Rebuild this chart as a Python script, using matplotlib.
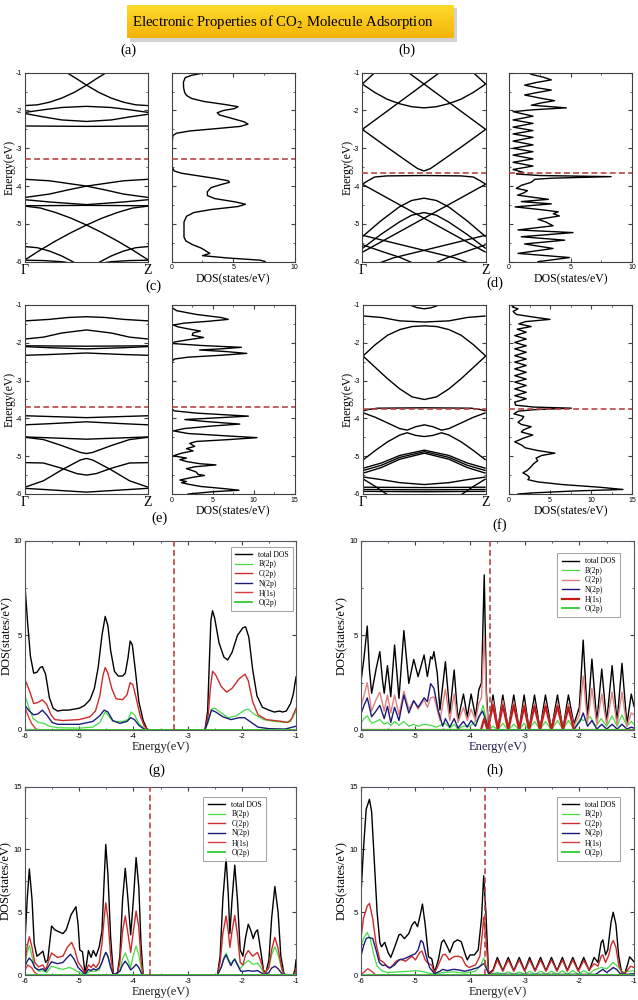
import numpy as np
import matplotlib
matplotlib.use('Agg')
import matplotlib.pyplot as plt
from matplotlib.patches import Rectangle
from matplotlib.colors import LinearSegmentedColormap
from matplotlib.ticker import MultipleLocator

plt.rcParams['font.family'] = ['Liberation Serif', 'DejaVu Serif']
plt.rcParams['mathtext.fontset'] = 'stix'
plt.rcParams['axes.unicode_minus'] = False

# ---------------------------------------------------------------- data
# band structures: each band is a list of (k, E), k from Gamma (0) to Z (1)
bands_a = [
    [(0.34, -1.0), (0.42, -1.16), (0.5, -1.33), (0.6, -1.52), (0.7, -1.67), (0.8, -1.78), (0.9, -1.85), (1.0, -1.87)],
    [(0.0, -1.87), (0.1, -1.85), (0.2, -1.78), (0.3, -1.67), (0.4, -1.52), (0.5, -1.33), (0.58, -1.16), (0.66, -1.0)],
    [(0.0, -2.05), (0.15, -1.98), (0.3, -1.92), (0.5, -1.89), (0.7, -1.92), (0.85, -1.98), (1.0, -2.05)],
    [(0.0, -2.08), (0.15, -2.17), (0.3, -2.25), (0.5, -2.29), (0.7, -2.25), (0.85, -2.17), (1.0, -2.1)],
    [(0.0, -2.41), (0.5, -2.42), (1.0, -2.41)],
    [(0.0, -3.82), (0.2, -3.86), (0.35, -3.93), (0.5, -4.0), (0.65, -4.1), (0.8, -4.21), (1.0, -4.3)],
    [(0.0, -4.3), (0.2, -4.21), (0.35, -4.1), (0.5, -4.0), (0.65, -3.93), (0.8, -3.86), (1.0, -3.82)],
    [(0.0, -4.36), (0.2, -4.42), (0.5, -4.49), (0.8, -4.42), (1.0, -4.36)],
    [(0.0, -4.52), (0.5, -4.51), (1.0, -4.52)],
    [(0.0, -4.53), (0.125, -4.58), (0.25, -4.7), (0.375, -4.85), (0.5, -5.03), (0.625, -5.23), (0.75, -5.45), (0.875, -5.69), (1.0, -5.95)],
    [(0.0, -5.95), (0.125, -5.69), (0.25, -5.45), (0.375, -5.23), (0.5, -5.03), (0.625, -4.85), (0.75, -4.7), (0.875, -4.58), (1.0, -4.53)],
    [(0.0, -5.6), (0.1, -5.63), (0.2, -5.72), (0.3, -5.85), (0.4, -6.02)],
    [(1.0, -5.6), (0.9, -5.63), (0.8, -5.72), (0.7, -5.85), (0.6, -6.02)],
    [(0.0, -5.96), (0.15, -5.97), (0.3, -6.0), (0.4, -6.05)],
    [(1.0, -5.96), (0.85, -5.97), (0.7, -6.0), (0.6, -6.05)],
]

bands_b = [
    [(0.0, -1.3), (0.05, -1.15), (0.1, -1.0)],
    [(1.0, -1.3), (0.95, -1.15), (0.9, -1.0)],
    [(0.0, -1.3), (0.1, -1.52), (0.2, -1.7), (0.3, -1.82), (0.4, -1.9), (0.5, -1.93), (0.6, -1.9), (0.7, -1.82), (0.8, -1.7), (0.9, -1.52), (1.0, -1.3)],
    [(0.0, -2.5), (0.5, -1.3), (0.65, -0.94)],
    [(1.0, -2.5), (0.5, -1.3), (0.35, -0.94)],
    [(0.0, -2.5), (0.2, -2.97), (0.4, -3.43), (0.45, -3.54), (0.5, -3.6), (0.55, -3.54), (0.6, -3.43), (0.8, -2.97), (1.0, -2.5)],
    [(0.0, -3.95), (0.05, -3.85), (0.1, -3.76), (0.2, -3.73), (0.5, -3.72), (0.8, -3.73), (0.9, -3.76), (0.95, -3.85), (1.0, -3.95)],
    [(0.0, -3.95), (0.25, -4.4), (0.5, -4.85), (0.75, -5.3), (1.0, -5.75)],
    [(0.0, -5.75), (0.25, -5.3), (0.5, -4.85), (0.75, -4.4), (1.0, -3.95)],
    [(0.0, -5.34), (0.15, -4.92), (0.3, -4.55), (0.4, -4.38), (0.5, -4.32), (0.6, -4.38), (0.7, -4.55), (0.85, -4.92), (1.0, -5.34)],
    [(0.0, -5.65), (0.15, -5.28), (0.3, -4.95), (0.4, -4.77), (0.5, -4.7), (0.6, -4.77), (0.7, -4.95), (0.85, -5.28), (1.0, -5.65)],
    [(0.0, -5.3), (0.25, -5.5), (0.5, -5.7), (0.75, -5.9), (0.85, -6.02)],
    [(1.0, -5.3), (0.75, -5.5), (0.5, -5.7), (0.25, -5.9), (0.15, -6.02)],
    [(0.0, -5.55), (0.15, -5.72), (0.3, -5.88), (0.4, -6.02)],
    [(1.0, -5.55), (0.85, -5.72), (0.7, -5.88), (0.6, -6.02)],
]

bands_c = [
    [(0.0, -1.42), (0.2, -1.38), (0.35, -1.33), (0.5, -1.31), (0.65, -1.33), (0.8, -1.38), (1.0, -1.42)],
    [(0.0, -1.9), (0.15, -1.85), (0.3, -1.74), (0.5, -1.66), (0.7, -1.74), (0.85, -1.85), (1.0, -1.9)],
    [(0.0, -2.08), (0.5, -2.09), (1.0, -2.08)],
    [(0.0, -2.1), (0.2, -2.13), (0.5, -2.16), (0.8, -2.13), (1.0, -2.1)],
    [(0.0, -2.33), (0.2, -2.31), (0.5, -2.27), (0.8, -2.31), (1.0, -2.33)],
    [(0.0, -3.93), (0.2, -3.95), (0.5, -3.98), (0.8, -3.95), (1.0, -3.93)],
    [(0.0, -4.17), (0.2, -4.14), (0.5, -4.09), (0.8, -4.14), (1.0, -4.17)],
    [(0.0, -4.49), (0.5, -4.55), (1.0, -4.49)],
    [(0.0, -4.5), (0.15, -4.56), (0.3, -4.72), (0.45, -4.9), (0.5, -4.93), (0.55, -4.9), (0.7, -4.72), (0.85, -4.56), (1.0, -4.5)],
    [(0.0, -5.17), (0.15, -5.18), (0.3, -5.32), (0.42, -5.46), (0.5, -5.5), (0.58, -5.46), (0.7, -5.32), (0.85, -5.18), (1.0, -5.17)],
    [(0.0, -5.82), (0.15, -5.65), (0.3, -5.36), (0.45, -5.1), (0.5, -5.06), (0.55, -5.1), (0.7, -5.36), (0.85, -5.65), (1.0, -5.82)],
    [(0.0, -5.85), (0.25, -5.9), (0.5, -5.95), (0.75, -5.9), (1.0, -5.85)],
]

bands_d = [
    [(0.38, -1.0), (0.44, -1.07), (0.5, -1.1), (0.56, -1.07), (0.62, -1.0)],
    [(0.0, -1.29), (0.15, -1.33), (0.3, -1.42), (0.5, -1.45), (0.7, -1.42), (0.85, -1.33), (1.0, -1.29)],
    [(0.0, -2.35), (0.1, -2.05), (0.2, -1.8), (0.3, -1.65), (0.4, -1.57), (0.5, -1.55), (0.6, -1.57), (0.7, -1.65), (0.8, -1.8), (0.9, -2.05), (1.0, -2.35)],
    [(0.0, -2.35), (0.1, -2.65), (0.2, -2.95), (0.3, -3.22), (0.4, -3.43), (0.5, -3.5), (0.6, -3.43), (0.7, -3.22), (0.8, -2.95), (0.9, -2.65), (1.0, -2.35)],
    [(0.0, -3.8), (0.05, -3.76), (0.12, -3.73), (0.5, -3.72), (0.88, -3.73), (0.95, -3.76), (1.0, -3.8)],
    [(0.0, -3.85), (0.1, -3.97), (0.2, -4.12), (0.3, -4.27), (0.36, -4.31), (0.43, -4.22), (0.5, -4.17), (0.57, -4.22), (0.64, -4.31), (0.7, -4.27), (0.8, -4.12), (0.9, -3.97), (1.0, -3.85)],
    [(0.0, -5.1), (0.1, -4.85), (0.2, -4.62), (0.3, -4.44), (0.36, -4.38), (0.43, -4.45), (0.5, -4.48), (0.57, -4.45), (0.64, -4.38), (0.7, -4.44), (0.8, -4.62), (0.9, -4.85), (1.0, -5.1)],
    [(0.0, -5.32), (0.15, -5.18), (0.3, -4.98), (0.5, -4.84), (0.7, -4.98), (0.85, -5.18), (1.0, -5.32)],
    [(0.0, -5.38), (0.15, -5.24), (0.3, -5.03), (0.5, -4.88), (0.7, -5.03), (0.85, -5.24), (1.0, -5.38)],
    [(0.0, -5.45), (0.15, -5.3), (0.3, -5.08), (0.5, -4.92), (0.7, -5.08), (0.85, -5.3), (1.0, -5.45)],
    [(0.0, -5.55), (0.15, -5.62), (0.3, -5.7), (0.5, -5.75), (0.7, -5.7), (0.85, -5.62), (1.0, -5.55)],
    [(0.0, -5.82), (0.5, -5.83), (1.0, -5.82)],
    [(0.0, -5.88), (0.5, -5.89), (1.0, -5.88)],
    [(0.0, -5.93), (0.5, -5.94), (1.0, -5.93)],
    [(0.0, -5.6), (0.1, -5.8), (0.2, -6.02)],
    [(1.0, -5.6), (0.9, -5.8), (0.8, -6.02)],
]

# total DOS next to the bands: (E, DOS)
dos_a = [(-1.0, 2.7), (-1.07, 1.6), (-1.13, 1.1), (-1.25, 0.95), (-1.4, 0.97), (-1.52, 1.05), (-1.6, 1.2), (-1.68, 1.6),
         (-1.76, 2.6), (-1.84, 4.3), (-1.9, 5.4), (-1.95, 5.1), (-2.0, 4.2), (-2.06, 3.7), (-2.12, 3.9), (-2.2, 4.8),
         (-2.3, 5.9), (-2.36, 6.2), (-2.42, 5.6), (-2.48, 3.6), (-2.54, 1.5), (-2.6, 0.4), (-2.66, 0.1), (-2.8, 0.05),
         (-3.5, 0.05), (-3.6, 0.2), (-3.66, 0.8), (-3.72, 2.0), (-3.8, 3.6), (-3.86, 4.6), (-3.9, 4.7), (-3.96, 4.0),
         (-4.04, 3.2), (-4.15, 2.9), (-4.25, 2.9), (-4.33, 3.5), (-4.42, 5.2), (-4.48, 6.0), (-4.54, 5.4), (-4.62, 3.2),
         (-4.7, 1.8), (-4.8, 1.2), (-4.95, 1.0), (-5.2, 1.0), (-5.35, 1.0), (-5.45, 1.15), (-5.55, 1.7), (-5.64, 2.4),
         (-5.72, 2.8), (-5.78, 3.1), (-5.84, 2.5), (-5.9, 4.5), (-5.96, 7.2), (-6.0, 7.6)]

dos_b = [(-1.0, 1.5), (-1.05, 1.9), (-1.12, 2.8), (-1.19, 3.44), (-1.26, 2.2), (-1.33, 1.27), (-1.4, 2.3), (-1.46, 3.44),
         (-1.53, 2.2), (-1.59, 1.27), (-1.67, 2.5), (-1.74, 3.71), (-1.8, 2.6), (-1.86, 1.82), (-1.93, 4.66), (-1.98, 2.0),
         (-2.03, 0.33), (-2.15, 1.95), (-2.25, 0.33), (-2.34, 1.95), (-2.44, 0.33), (-2.53, 1.95), (-2.62, 0.33),
         (-2.71, 1.95), (-2.81, 0.33), (-2.91, 1.95), (-3.0, 0.33), (-3.09, 1.95), (-3.18, 0.33), (-3.28, 1.95),
         (-3.37, 0.33), (-3.47, 1.95), (-3.56, 0.33), (-3.64, 1.2), (-3.68, 0.6), (-3.72, 2.5), (-3.75, 8.3),
         (-3.79, 3.5), (-3.82, 2.1), (-3.9, 1.8), (-3.98, 1.0), (-4.06, 0.6), (-4.12, 1.5), (-4.18, 1.2), (-4.24, 0.7),
         (-4.35, 3.2), (-4.41, 1.0), (-4.47, 3.44), (-4.55, 0.5), (-4.62, 2.5), (-4.68, 4.0), (-4.73, 3.6), (-4.79, 4.1),
         (-4.88, 2.36), (-4.95, 3.0), (-5.05, 3.58), (-5.16, 0.73), (-5.23, 5.2), (-5.34, 1.0), (-5.43, 4.53),
         (-5.53, 1.27), (-5.65, 3.58), (-5.78, 0.73), (-5.89, 4.93), (-6.0, 2.36)]

dos_c = [(-1.0, 0.05), (-1.08, 0.1), (-1.15, 0.6), (-1.25, 3.0), (-1.33, 6.0), (-1.38, 6.9), (-1.43, 4.5), (-1.48, 1.5),
         (-1.53, 0.2), (-1.58, 0.8), (-1.64, 2.2), (-1.69, 3.5), (-1.74, 2.6), (-1.8, 2.5), (-1.86, 3.9), (-1.92, 2.0),
         (-1.98, 0.3), (-2.02, 0.2), (-2.07, 3.5), (-2.12, 8.5), (-2.16, 6.0), (-2.19, 3.4), (-2.23, 6.5), (-2.28, 9.15),
         (-2.33, 6.0), (-2.38, 2.0), (-2.43, 0.3), (-2.5, 0.05), (-3.75, 0.05), (-3.8, 0.3), (-3.86, 3.0), (-3.94, 9.35),
         (-3.98, 6.0), (-4.03, 1.6), (-4.08, 4.0), (-4.15, 8.3), (-4.2, 5.0), (-4.27, 1.5), (-4.33, 0.2), (-4.4, 2.0),
         (-4.46, 6.5), (-4.51, 10.4), (-4.56, 7.0), (-4.61, 3.0), (-4.66, 2.2), (-4.74, 2.8), (-4.8, 1.8), (-4.86, 2.6),
         (-4.92, 1.2), (-4.99, 0.2), (-5.05, 1.8), (-5.09, 1.0), (-5.14, 1.8), (-5.17, 2.6), (-5.2, 3.5), (-5.23, 5.4),
         (-5.28, 2.8), (-5.33, 1.8), (-5.38, 2.5), (-5.42, 3.0), (-5.48, 3.2), (-5.51, 4.0), (-5.56, 2.5), (-5.63, 1.0),
         (-5.67, 1.8), (-5.7, 1.2), (-5.74, 2.0), (-5.8, 3.5), (-5.86, 6.5), (-5.9, 8.2), (-5.94, 5.0), (-6.0, 2.0)]

dos_d = [(-1.0, 0.7), (-1.05, 0.4), (-1.1, 1.1), (-1.17, 0.5), (-1.25, 0.9), (-1.32, 3.0), (-1.38, 5.0), (-1.44, 2.0),
         (-1.5, 1.2), (-1.57, 2.7), (-1.64, 1.0), (-1.72, 2.1), (-1.81, 0.7), (-1.9, 2.1), (-1.99, 0.7), (-2.08, 2.1),
         (-2.16, 0.7), (-2.25, 2.1), (-2.34, 0.7), (-2.43, 2.1), (-2.51, 0.7), (-2.6, 2.1), (-2.69, 0.7), (-2.78, 2.1),
         (-2.87, 0.7), (-2.96, 2.1), (-3.04, 0.7), (-3.13, 2.1), (-3.22, 0.7), (-3.31, 2.1), (-3.4, 0.7), (-3.48, 2.1),
         (-3.57, 0.7), (-3.65, 0.8), (-3.7, 3.0), (-3.73, 7.6), (-3.77, 3.0), (-3.81, 1.1), (-3.88, 0.6), (-3.95, 1.8),
         (-4.02, 1.6), (-4.1, 1.1), (-4.16, 1.5), (-4.22, 2.7), (-4.3, 1.8), (-4.36, 1.5), (-4.44, 2.9), (-4.52, 1.8),
         (-4.62, 0.7), (-4.7, 1.5), (-4.78, 2.0), (-4.85, 3.5), (-4.92, 5.6), (-4.98, 4.0), (-5.05, 3.3), (-5.12, 3.5),
         (-5.2, 3.0), (-5.3, 2.6), (-5.38, 2.2), (-5.44, 1.7), (-5.5, 2.2), (-5.56, 2.5), (-5.62, 2.3), (-5.68, 3.5),
         (-5.75, 6.5), (-5.82, 11.0), (-5.88, 13.9), (-5.92, 8.0), (-5.97, 3.0), (-6.0, 1.1)]

# projected DOS panels (E, DOS)
e_total = [(-6.0, 7.6), (-5.95, 5.6), (-5.9, 3.9), (-5.84, 3.0), (-5.78, 3.05), (-5.72, 3.3), (-5.68, 3.35), (-5.62, 2.95),
           (-5.55, 1.7), (-5.48, 1.15), (-5.4, 1.0), (-5.3, 1.05), (-5.2, 1.05), (-5.1, 1.1), (-5.0, 1.15), (-4.9, 1.3),
           (-4.8, 1.6), (-4.72, 2.2), (-4.65, 3.3), (-4.58, 5.0), (-4.52, 6.0), (-4.47, 5.5), (-4.42, 4.2), (-4.35, 3.1),
           (-4.28, 2.85), (-4.2, 2.85), (-4.15, 3.0), (-4.1, 3.8), (-4.06, 4.7), (-4.02, 4.5), (-3.97, 3.3), (-3.9, 1.5),
           (-3.82, 0.5), (-3.75, 0.05), (-3.7, 0.0), (-2.68, 0.0), (-2.63, 1.0), (-2.6, 3.5), (-2.57, 5.8), (-2.54, 6.3),
           (-2.5, 5.9), (-2.42, 4.6), (-2.33, 3.85), (-2.26, 3.7), (-2.18, 4.1), (-2.08, 5.0), (-1.98, 5.4), (-1.93, 5.45),
           (-1.87, 4.9), (-1.8, 3.2), (-1.72, 1.8), (-1.62, 1.2), (-1.5, 1.05), (-1.4, 0.95), (-1.3, 1.0), (-1.25, 0.95),
           (-1.18, 1.0), (-1.1, 1.4), (-1.05, 1.9), (-1.0, 2.8)]
e_b2p = [(-6.0, 1.8), (-5.93, 1.2), (-5.85, 0.6), (-5.75, 0.4), (-5.65, 0.35), (-5.55, 0.2), (-5.4, 0.12), (-5.0, 0.1),
         (-4.75, 0.15), (-4.62, 0.4), (-4.52, 0.95), (-4.46, 0.75), (-4.38, 0.45), (-4.2, 0.45), (-4.1, 0.55), (-4.04, 0.95),
         (-3.98, 0.8), (-3.9, 0.35), (-3.8, 0.05), (-3.72, 0.0), (-2.68, 0.0), (-2.62, 0.4), (-2.56, 1.1), (-2.5, 1.15),
         (-2.4, 0.95), (-2.25, 0.65), (-2.1, 0.75), (-1.95, 1.05), (-1.88, 1.1), (-1.78, 0.85), (-1.6, 0.55), (-1.4, 0.45),
         (-1.2, 0.4), (-1.1, 0.45), (-1.0, 1.0)]
e_c2p = [(-6.0, 2.65), (-5.92, 2.1), (-5.84, 1.4), (-5.76, 1.45), (-5.68, 1.6), (-5.6, 1.35), (-5.52, 0.8), (-5.45, 0.55),
         (-5.3, 0.5), (-5.0, 0.55), (-4.8, 0.7), (-4.7, 1.0), (-4.62, 1.8), (-4.56, 2.9), (-4.52, 3.3), (-4.47, 3.0),
         (-4.4, 2.2), (-4.32, 1.65), (-4.2, 1.6), (-4.12, 1.85), (-4.06, 2.5), (-4.01, 2.4), (-3.95, 1.7), (-3.88, 0.8),
         (-3.8, 0.2), (-3.72, 0.0), (-2.68, 0.0), (-2.62, 0.8), (-2.58, 2.2), (-2.54, 3.1), (-2.48, 2.9), (-2.38, 2.3),
         (-2.28, 2.0), (-2.18, 2.2), (-2.05, 2.7), (-1.94, 2.95), (-1.88, 2.6), (-1.8, 1.5), (-1.7, 0.8), (-1.55, 0.55),
         (-1.4, 0.5), (-1.25, 0.45), (-1.15, 0.4), (-1.08, 0.6), (-1.0, 1.15)]
e_n2p = [(-6.0, 1.3), (-5.92, 1.0), (-5.84, 0.8), (-5.76, 0.85), (-5.68, 1.05), (-5.6, 0.8), (-5.5, 0.4), (-5.4, 0.3),
         (-5.0, 0.3), (-4.75, 0.45), (-4.62, 0.75), (-4.54, 1.05), (-4.47, 0.95), (-4.38, 0.5), (-4.25, 0.35), (-4.12, 0.45),
         (-4.05, 0.65), (-3.98, 0.55), (-3.9, 0.25), (-3.8, 0.05), (-3.72, 0.0), (-2.68, 0.0), (-2.62, 0.5), (-2.56, 1.05),
         (-2.48, 0.95), (-2.35, 0.7), (-2.2, 0.55), (-2.05, 0.65), (-1.95, 0.65), (-1.85, 0.45), (-1.7, 0.15), (-1.5, 0.07),
         (-1.2, 0.05), (-1.0, 0.2)]
e_h1s = [(-6.0, 1.2), (-5.95, 0.8), (-5.88, 0.35), (-5.8, 0.05), (-5.7, 0.0), (-1.0, 0.0)]
e_o2p = [(-6.0, 0.02), (-1.0, 0.02)]

f_total = [(-6.0, 2.45), (-5.94, 3.8), (-5.88, 5.49), (-5.84, 3.2), (-5.8, 1.94), (-5.72, 3.2), (-5.65, 4.14), (-5.6, 2.6),
           (-5.57, 1.94), (-5.51, 3.4), (-5.45, 1.76), (-5.38, 4.49), (-5.3, 1.67), (-5.21, 5.25), (-5.12, 2.46),
           (-5.03, 3.73), (-4.95, 2.82), (-4.84, 3.96), (-4.78, 2.82), (-4.72, 3.87), (-4.69, 3.75), (-4.66, 4.14),
           (-4.6, 3.0), (-4.55, 1.06), (-4.45, 3.61), (-4.37, 0.88), (-4.29, 3.17), (-4.22, 0.53), (-4.12, 1.9),
           (-4.05, 0.7), (-3.98, 1.9), (-3.9, 0.7), (-3.84, 2.11), (-3.79, 2.5), (-3.74, 8.19), (-3.7, 2.0), (-3.66, 0.05),
           (-3.58, 1.85), (-3.49, 0.05), (-3.4, 1.85), (-3.3, 0.05), (-3.2, 1.85), (-3.1, 0.05), (-3.01, 1.85),
           (-2.92, 0.05), (-2.82, 1.85), (-2.72, 0.05), (-2.62, 1.85), (-2.51, 0.05), (-2.4, 1.85), (-2.3, 0.05),
           (-2.2, 1.85), (-2.1, 0.3), (-2.0, 1.2), (-1.93, 4.75), (-1.85, 0.6), (-1.77, 3.75), (-1.68, 0.4), (-1.59, 3.22),
           (-1.5, 0.4), (-1.4, 3.4), (-1.31, 0.4), (-1.22, 3.52), (-1.13, 0.3), (-1.05, 1.9), (-1.0, 1.25)]
f_b2p = [(-6.0, 0.35), (-5.94, 0.6), (-5.88, 0.75), (-5.8, 0.35), (-5.72, 0.45), (-5.65, 0.55), (-5.57, 0.3), (-5.51, 0.4),
         (-5.45, 0.25), (-5.38, 0.45), (-5.3, 0.25), (-5.21, 0.45), (-5.12, 0.2), (-5.03, 0.3), (-4.95, 0.2), (-4.84, 0.3),
         (-4.72, 0.25), (-4.62, 0.15), (-4.45, 0.35), (-4.37, 0.1), (-4.29, 0.3), (-4.22, 0.05), (-4.12, 0.2), (-4.0, 0.2),
         (-3.84, 0.6), (-3.76, 1.3), (-3.7, 0.5), (-3.66, 0.02), (-3.58, 0.2), (-3.49, 0.02), (-3.4, 0.35), (-3.3, 0.02),
         (-3.2, 0.3), (-3.1, 0.02), (-3.01, 0.35), (-2.92, 0.02), (-2.82, 0.45), (-2.72, 0.02), (-2.62, 0.45),
         (-2.51, 0.02), (-2.4, 0.5), (-2.3, 0.02), (-2.2, 0.5), (-2.1, 0.05), (-1.98, 0.6), (-1.93, 0.5), (-1.8, 0.7),
         (-1.7, 0.2), (-1.6, 0.6), (-1.5, 0.2), (-1.4, 0.75), (-1.31, 0.2), (-1.22, 0.8), (-1.13, 0.2), (-1.05, 0.45),
         (-1.0, 0.3)]
f_c2p = [(-6.0, 1.2), (-5.94, 1.8), (-5.88, 2.5), (-5.8, 1.0), (-5.72, 1.6), (-5.65, 2.0), (-5.57, 1.0), (-5.51, 1.85),
         (-5.45, 0.9), (-5.38, 1.85), (-5.3, 0.8), (-5.21, 2.05), (-5.12, 1.1), (-5.03, 1.55), (-4.95, 1.1), (-4.84, 1.6),
         (-4.78, 1.2), (-4.72, 1.7), (-4.66, 1.75), (-4.55, 0.5), (-4.45, 2.15), (-4.37, 0.5), (-4.29, 1.9), (-4.22, 0.4),
         (-4.12, 1.2), (-4.05, 0.5), (-3.98, 1.1), (-3.9, 0.5), (-3.84, 1.4), (-3.79, 1.7), (-3.74, 5.0), (-3.7, 1.5),
         (-3.66, 0.05), (-3.58, 1.55), (-3.49, 0.05), (-3.4, 1.55), (-3.3, 0.05), (-3.2, 1.5), (-3.1, 0.05),
         (-3.01, 1.45), (-2.92, 0.05), (-2.82, 1.4), (-2.72, 0.05), (-2.62, 1.4), (-2.51, 0.05), (-2.4, 1.45),
         (-2.3, 0.05), (-2.2, 1.4), (-2.1, 0.2), (-2.0, 0.8), (-1.93, 2.85), (-1.85, 0.4), (-1.77, 2.2), (-1.68, 0.3),
         (-1.59, 1.9), (-1.5, 0.3), (-1.4, 2.0), (-1.31, 0.3), (-1.22, 2.0), (-1.13, 0.2), (-1.05, 0.9), (-1.0, 0.8)]
f_n2p = [(-6.0, 0.8), (-5.94, 1.3), (-5.88, 1.7), (-5.8, 0.7), (-5.72, 1.0), (-5.65, 1.3), (-5.57, 0.6), (-5.51, 1.25),
         (-5.45, 0.4), (-5.38, 1.2), (-5.3, 0.5), (-5.21, 1.85), (-5.12, 0.9), (-5.03, 1.55), (-4.95, 1.2), (-4.84, 1.7),
         (-4.78, 1.5), (-4.72, 2.45), (-4.66, 2.2), (-4.58, 1.0), (-4.5, 0.2), (-4.45, 0.6), (-4.37, 0.15), (-4.29, 0.6),
         (-4.22, 0.1), (-4.12, 0.45), (-4.05, 0.15), (-3.98, 0.5), (-3.9, 0.2), (-3.84, 0.7), (-3.77, 1.0), (-3.72, 0.6),
         (-3.66, 0.02), (-2.1, 0.02), (-1.98, 0.5), (-1.93, 0.9), (-1.85, 0.2), (-1.77, 0.5), (-1.68, 0.05), (-1.59, 0.3),
         (-1.5, 0.05), (-1.4, 0.3), (-1.31, 0.05), (-1.22, 0.3), (-1.13, 0.05), (-1.05, 0.15), (-1.0, 0.1)]
f_h1s = [(-6.0, 0.0), (-3.8, 0.0), (-3.74, 0.6), (-3.68, 0.0), (-3.58, 1.3), (-3.49, 0.0), (-3.4, 1.3), (-3.3, 0.0),
         (-3.2, 1.3), (-3.1, 0.0), (-3.01, 1.25), (-2.92, 0.0), (-2.82, 1.25), (-2.72, 0.0), (-2.62, 1.25), (-2.51, 0.0),
         (-2.4, 1.25), (-2.3, 0.0), (-2.2, 1.2), (-2.1, 0.0), (-1.0, 0.0)]
f_o2p = [(-6.0, 0.02), (-1.0, 0.02)]

g_total = [(-6.0, 2.7), (-5.96, 6.0), (-5.92, 8.45), (-5.87, 6.0), (-5.83, 2.5), (-5.78, 1.5), (-5.72, 1.7), (-5.67, 1.9),
           (-5.62, 1.0), (-5.58, 1.2), (-5.51, 3.9), (-5.45, 3.6), (-5.38, 3.45), (-5.3, 3.3), (-5.24, 3.6), (-5.15, 4.8),
           (-5.06, 5.44), (-5.02, 4.0), (-4.99, 2.0), (-4.94, 1.85), (-4.89, 0.1), (-4.83, 1.95), (-4.78, 1.4),
           (-4.74, 1.95), (-4.69, 1.5), (-4.63, 2.25), (-4.58, 3.5), (-4.54, 7.5), (-4.51, 10.4), (-4.47, 8.0),
           (-4.42, 3.0), (-4.37, 0.1), (-4.3, 0.0), (-4.25, 1.5), (-4.2, 6.0), (-4.15, 8.5), (-4.1, 6.0), (-4.05, 3.2),
           (-4.0, 6.0), (-3.95, 9.35), (-3.9, 7.0), (-3.86, 2.5), (-3.82, 0.05), (-3.8, 0.0), (-2.45, 0.0), (-2.4, 1.5),
           (-2.35, 6.0), (-2.29, 9.3), (-2.25, 6.5), (-2.22, 3.3), (-2.18, 6.0), (-2.13, 8.75), (-2.08, 6.0),
           (-2.03, 2.0), (-1.98, 1.5), (-1.93, 3.0), (-1.88, 4.05), (-1.83, 3.5), (-1.79, 2.9), (-1.75, 3.4),
           (-1.71, 3.6), (-1.66, 2.2), (-1.6, 0.4), (-1.56, 0.1), (-1.5, 1.2), (-1.45, 4.5), (-1.39, 7.05), (-1.33, 5.0),
           (-1.28, 1.5), (-1.22, 0.05), (-1.05, 0.0), (-1.02, 0.4), (-1.0, 1.2)]
g_b2p = [(-6.0, 0.8), (-5.96, 1.8), (-5.92, 2.35), (-5.87, 1.5), (-5.82, 0.6), (-5.75, 0.3), (-5.67, 0.35), (-5.6, 0.2),
         (-5.51, 0.7), (-5.4, 0.55), (-5.3, 0.45), (-5.18, 0.6), (-5.1, 0.45), (-5.0, 0.2), (-4.89, 0.05), (-4.8, 0.3),
         (-4.7, 0.3), (-4.63, 0.4), (-4.56, 1.3), (-4.51, 1.8), (-4.46, 1.3), (-4.4, 0.4), (-4.37, 0.0), (-4.25, 0.3),
         (-4.2, 1.3), (-4.15, 1.75), (-4.1, 1.2), (-4.05, 0.6), (-4.0, 1.6), (-3.95, 2.3), (-3.9, 1.6), (-3.85, 0.4),
         (-3.82, 0.0), (-2.45, 0.0), (-2.38, 0.6), (-2.33, 1.4), (-2.29, 1.75), (-2.24, 1.2), (-2.2, 0.9), (-2.16, 1.15),
         (-2.13, 1.3), (-2.08, 0.9), (-2.03, 0.5), (-1.95, 0.9), (-1.88, 1.15), (-1.79, 0.85), (-1.71, 0.95),
         (-1.65, 0.6), (-1.58, 0.05), (-1.5, 0.6), (-1.45, 1.6), (-1.39, 2.25), (-1.33, 1.6), (-1.26, 0.4), (-1.22, 0.0),
         (-1.02, 0.0), (-1.0, 0.4)]
g_c2p = [(-6.0, 1.0), (-5.96, 2.3), (-5.92, 3.05), (-5.87, 2.2), (-5.82, 1.0), (-5.75, 0.65), (-5.67, 0.8), (-5.62, 0.4),
         (-5.55, 1.3), (-5.51, 1.75), (-5.4, 1.4), (-5.3, 1.5), (-5.22, 2.2), (-5.14, 2.6), (-5.08, 2.0), (-5.02, 1.0),
         (-4.95, 0.6), (-4.89, 0.1), (-4.83, 0.8), (-4.78, 0.6), (-4.74, 0.85), (-4.69, 0.6), (-4.63, 1.0), (-4.58, 2.5),
         (-4.54, 4.5), (-4.51, 5.75), (-4.47, 4.5), (-4.42, 1.5), (-4.37, 0.05), (-4.3, 0.0), (-4.25, 1.0), (-4.2, 3.5),
         (-4.15, 4.7), (-4.1, 3.3), (-4.05, 1.8), (-4.0, 3.5), (-3.95, 5.1), (-3.9, 3.8), (-3.86, 1.2), (-3.82, 0.0),
         (-2.45, 0.0), (-2.4, 1.0), (-2.35, 3.3), (-2.29, 4.7), (-2.25, 3.5), (-2.22, 2.2), (-2.18, 3.5), (-2.13, 4.75),
         (-2.08, 3.2), (-2.03, 1.0), (-1.98, 0.8), (-1.93, 1.6), (-1.88, 1.95), (-1.8, 1.5), (-1.71, 1.8), (-1.65, 1.1),
         (-1.58, 0.1), (-1.5, 0.6), (-1.45, 2.0), (-1.39, 3.0), (-1.33, 2.1), (-1.26, 0.5), (-1.22, 0.0), (-1.02, 0.0),
         (-1.0, 0.5)]
g_n2p = [(-6.0, 0.7), (-5.96, 1.1), (-5.92, 1.35), (-5.87, 1.1), (-5.82, 0.6), (-5.75, 0.4), (-5.67, 0.5), (-5.62, 0.3),
         (-5.55, 0.8), (-5.51, 1.05), (-5.4, 0.9), (-5.3, 1.0), (-5.22, 1.4), (-5.16, 1.65), (-5.1, 1.3), (-5.02, 0.6),
         (-4.95, 0.3), (-4.89, 0.05), (-4.83, 0.45), (-4.78, 0.35), (-4.74, 0.5), (-4.69, 0.4), (-4.63, 0.55),
         (-4.58, 1.0), (-4.54, 1.5), (-4.51, 1.8), (-4.47, 1.5), (-4.42, 0.6), (-4.37, 0.0), (-4.25, 0.3), (-4.2, 0.8),
         (-4.15, 1.1), (-4.1, 0.8), (-4.05, 0.4), (-4.0, 0.6), (-3.95, 0.85), (-3.9, 0.6), (-3.86, 0.2), (-3.82, 0.0),
         (-2.45, 0.0), (-2.38, 0.6), (-2.33, 1.3), (-2.29, 1.6), (-2.24, 1.1), (-2.2, 0.75), (-2.16, 1.1), (-2.13, 1.25),
         (-2.08, 0.8), (-2.02, 0.3), (-1.95, 0.3), (-1.88, 0.35), (-1.8, 0.3), (-1.71, 0.35), (-1.63, 0.15),
         (-1.58, 0.0), (-1.5, 0.2), (-1.45, 0.55), (-1.39, 0.7), (-1.33, 0.5), (-1.26, 0.1), (-1.22, 0.0), (-1.0, 0.0)]
g_h1s = [(-6.0, 0.4), (-5.95, 0.8), (-5.88, 0.6), (-5.82, 0.2), (-5.75, 0.0), (-1.0, 0.0)]
g_o2p = [(-6.0, 0.02), (-1.0, 0.02)]

h_total = [(-6.0, 6.0), (-5.95, 10.0), (-5.9, 13.2), (-5.84, 14.0), (-5.8, 13.0), (-5.75, 9.0), (-5.7, 5.0), (-5.65, 2.6),
           (-5.62, 2.25), (-5.56, 2.6), (-5.5, 1.8), (-5.45, 1.4), (-5.38, 2.2), (-5.3, 3.2), (-5.27, 3.25), (-5.2, 2.9),
           (-5.12, 3.3), (-5.06, 4.0), (-5.01, 4.25), (-4.96, 3.85), (-4.91, 4.8), (-4.87, 5.65), (-4.82, 4.0),
           (-4.76, 1.45), (-4.7, 1.3), (-4.65, 0.2), (-4.58, 1.2), (-4.52, 2.6), (-4.48, 2.8), (-4.42, 2.3),
           (-4.37, 1.8), (-4.3, 2.6), (-4.23, 2.8), (-4.16, 2.65), (-4.1, 1.8), (-4.05, 1.2), (-4.0, 1.6), (-3.92, 1.6),
           (-3.85, 2.0), (-3.79, 4.5), (-3.75, 7.9), (-3.71, 5.0), (-3.66, 0.1), (-3.58, 0.4), (-3.5, 1.4), (-3.4, 0.35),
           (-3.3, 1.4), (-3.2, 0.35), (-3.1, 1.4), (-3.0, 0.35), (-2.91, 1.4), (-2.81, 0.35), (-2.71, 1.4), (-2.61, 0.35),
           (-2.51, 1.4), (-2.41, 0.35), (-2.31, 1.4), (-2.22, 0.35), (-2.12, 1.4), (-2.02, 0.35), (-1.92, 1.4),
           (-1.82, 0.35), (-1.73, 1.4), (-1.66, 1.0), (-1.6, 2.6), (-1.57, 2.8), (-1.52, 1.6), (-1.48, 2.0),
           (-1.42, 4.2), (-1.38, 5.0), (-1.33, 4.0), (-1.28, 1.5), (-1.23, 0.3), (-1.17, 0.1), (-1.12, 0.8),
           (-1.08, 1.45), (-1.03, 1.2), (-1.0, 1.05)]
h_b2p = [(-6.0, 2.2), (-5.95, 2.9), (-5.88, 3.4), (-5.82, 2.8), (-5.76, 1.6), (-5.7, 0.7), (-5.6, 0.3), (-5.5, 0.2),
         (-5.3, 0.25), (-5.1, 0.3), (-5.0, 0.35), (-4.9, 0.3), (-4.75, 0.15), (-4.65, 0.05), (-4.5, 0.2), (-4.3, 0.25),
         (-4.1, 0.15), (-3.9, 0.3), (-3.8, 0.8), (-3.75, 1.35), (-3.7, 0.7), (-3.65, 0.02), (-3.5, 0.2), (-3.4, 0.05),
         (-3.3, 0.25), (-3.2, 0.05), (-3.1, 0.25), (-3.0, 0.05), (-2.91, 0.3), (-2.81, 0.05), (-2.71, 0.3), (-2.61, 0.05),
         (-2.51, 0.3), (-2.41, 0.05), (-2.31, 0.35), (-2.22, 0.05), (-2.12, 0.35), (-2.02, 0.05), (-1.92, 0.35),
         (-1.82, 0.1), (-1.73, 0.4), (-1.6, 0.6), (-1.5, 0.5), (-1.38, 1.0), (-1.3, 0.7), (-1.22, 0.2), (-1.1, 0.3),
         (-1.0, 0.35)]
h_c2p = [(-6.0, 2.7), (-5.95, 4.5), (-5.88, 5.5), (-5.84, 5.7), (-5.78, 4.5), (-5.72, 2.5), (-5.65, 1.2), (-5.58, 1.0),
         (-5.5, 0.6), (-5.45, 0.6), (-5.35, 1.1), (-5.27, 1.25), (-5.18, 1.1), (-5.06, 1.5), (-5.0, 1.2), (-4.92, 1.8),
         (-4.88, 1.9), (-4.82, 1.2), (-4.76, 0.9), (-4.7, 0.8), (-4.65, 0.15), (-4.58, 0.8), (-4.5, 1.6), (-4.45, 1.65),
         (-4.38, 1.2), (-4.3, 1.45), (-4.22, 1.5), (-4.15, 1.4), (-4.08, 0.8), (-4.02, 0.6), (-3.9, 0.8), (-3.82, 1.5),
         (-3.77, 3.5), (-3.75, 4.6), (-3.71, 3.0), (-3.66, 0.05), (-3.58, 0.3), (-3.5, 1.2), (-3.4, 0.3), (-3.3, 1.2),
         (-3.2, 0.3), (-3.1, 1.2), (-3.0, 0.3), (-2.91, 1.2), (-2.81, 0.3), (-2.71, 1.2), (-2.61, 0.3), (-2.51, 1.2),
         (-2.41, 0.3), (-2.31, 1.2), (-2.22, 0.3), (-2.12, 1.2), (-2.02, 0.3), (-1.92, 1.15), (-1.82, 0.4), (-1.73, 0.9),
         (-1.66, 0.7), (-1.6, 1.5), (-1.57, 1.6), (-1.52, 1.0), (-1.46, 1.6), (-1.42, 2.4), (-1.38, 2.75), (-1.33, 2.2),
         (-1.28, 0.8), (-1.22, 0.2), (-1.17, 0.1), (-1.1, 0.5), (-1.06, 0.7), (-1.0, 0.6)]
h_n2p = [(-6.0, 1.4), (-5.95, 2.3), (-5.9, 2.9), (-5.85, 3.0), (-5.78, 2.9), (-5.72, 2.0), (-5.66, 1.0), (-5.6, 0.75),
         (-5.55, 0.8), (-5.47, 0.55), (-5.38, 0.8), (-5.3, 1.2), (-5.2, 1.3), (-5.1, 1.5), (-5.0, 1.7), (-4.95, 2.0),
         (-4.9, 2.75), (-4.86, 2.6), (-4.8, 1.5), (-4.74, 0.6), (-4.65, 0.1), (-4.55, 0.3), (-4.5, 0.45), (-4.42, 0.35),
         (-4.3, 0.45), (-4.2, 0.4), (-4.1, 0.3), (-4.0, 0.4), (-3.85, 0.6), (-3.77, 0.85), (-3.74, 0.9), (-3.7, 0.5),
         (-3.65, 0.05), (-1.7, 0.05), (-1.62, 0.3), (-1.57, 0.45), (-1.5, 0.2), (-1.42, 0.45), (-1.38, 0.6),
         (-1.32, 0.45), (-1.25, 0.1), (-1.15, 0.05), (-1.0, 0.1)]
h_h1s = [(-6.0, 0.0), (-5.92, 0.3), (-5.87, 0.5), (-5.8, 0.3), (-5.72, 0.0), (-1.0, 0.0)]
h_o2p = [(-6.0, 0.02), (-1.0, 0.02)]

fermi = {'a': -3.27, 'b': -3.66, 'c': -3.71, 'd': -3.74, 'e': -3.25, 'f': -3.64, 'g': -3.69, 'h': -3.73}
pdos_labels = ['total DOS', 'B(2p)', 'C(2p)', 'N(2p)', 'H(1s)', 'O(2p)']
title = 'Electronic Properties of CO$_2$ Molecule Adsorption'

# ---------------------------------------------------------------- drawing helpers
W, H = 638, 1000
fig = plt.figure(figsize=(W / 100, H / 100), dpi=100)

TICKFONT = 'Liberation Sans'
FRAME = '#404040'


def px_axes(x0, y0, x1, y1, **kw):
    # pixel box (top-left origin) -> figure fraction
    return fig.add_axes([x0 / W, 1 - y1 / H, (x1 - x0) / W, (y1 - y0) / H], **kw)


def frame(ax, color=FRAME):
    for s in ax.spines.values():
        s.set_color(color)
        s.set_linewidth(0.8)


def fermi_line(ax, value, horizontal=True, color='#b84444'):
    kw = dict(color=color, lw=1.2, ls=(0, (3.5, 2.0)), zorder=5)
    if horizontal:
        ax.axhline(value, **kw)
    else:
        ax.axvline(value, **kw)


def band_panel(ax, bands, ef):
    for band in bands:
        k, e = zip(*band)
        ax.plot(k, e, color='black', lw=1.0, solid_capstyle='butt', solid_joinstyle='round')
    fermi_line(ax, ef)
    ax.set_xlim(0, 1)
    ax.set_ylim(-6, -1)
    ax.set_xticks([0, 1])
    ax.set_xticklabels(['Γ', 'Z'], fontsize=10)
    ax.tick_params(axis='x', length=0, pad=1.5)
    ax.yaxis.set_major_locator(MultipleLocator(1))
    ax.yaxis.set_minor_locator(MultipleLocator(0.5))
    ax.tick_params(axis='y', which='both', direction='in', left=True, right=True,
                   labelsize=5, pad=2, labelfontfamily=TICKFONT, color=FRAME)
    ax.tick_params(axis='y', which='major', length=3)
    ax.tick_params(axis='y', which='minor', length=1.5)
    ax.set_ylabel('Energy(eV)', fontsize=8.5, labelpad=0)
    frame(ax)


def dos_panel(ax, pts, ef, xmax):
    e, d = zip(*pts)
    ax.plot(d, e, color='black', lw=1.0, solid_joinstyle='round')
    fermi_line(ax, ef)
    ax.set_xlim(0, xmax)
    ax.set_ylim(-6, -1)
    ax.xaxis.set_major_locator(MultipleLocator(5))
    ax.xaxis.set_minor_locator(MultipleLocator(2.5))
    ax.yaxis.set_major_locator(MultipleLocator(1))
    ax.yaxis.set_minor_locator(MultipleLocator(0.5))
    ax.tick_params(which='both', direction='in', top=True, right=True, labelleft=False,
                   labelsize=5, pad=2, labelfontfamily=TICKFONT, color=FRAME)
    ax.tick_params(which='major', length=3)
    ax.tick_params(which='minor', length=1.5)
    ax.set_xlabel('DOS(states/eV)', fontsize=8.5, labelpad=1)
    frame(ax)


def pdos_panel(ax, series, ef, ymax, anchor, styles, label_color='#222222'):
    for pts, (color, lw), label in zip(series, styles, pdos_labels):
        e, d = zip(*pts)
        ax.plot(e, d, color=color, lw=lw, label=label, solid_joinstyle='round')
    fermi_line(ax, ef, horizontal=False)
    ax.set_xlim(-6, -1)
    ax.set_ylim(0, ymax)
    ax.xaxis.set_major_locator(MultipleLocator(1))
    ax.xaxis.set_minor_locator(MultipleLocator(0.5))
    ax.yaxis.set_major_locator(MultipleLocator(5))
    ax.yaxis.set_minor_locator(MultipleLocator(2.5))
    ax.tick_params(which='both', direction='in', top=True, right=True,
                   labelsize=5.5, pad=2, labelfontfamily=TICKFONT, color=FRAME)
    ax.tick_params(which='major', length=3)
    ax.tick_params(which='minor', length=1.5)
    ax.set_xlabel('Energy(eV)', fontsize=9, labelpad=1, color=label_color)
    ax.set_ylabel('DOS(states/eV)', fontsize=9, labelpad=1)
    leg = ax.legend(loc='upper right', bbox_to_anchor=anchor, fontsize=5.5, frameon=True,
                    fancybox=False, edgecolor='#777777', handlelength=2.3, handletextpad=0.8,
                    labelspacing=0.2, borderpad=0.55, borderaxespad=0.0)
    leg.get_frame().set_linewidth(0.6)
    frame(ax, '#555566')


base_styles = [('black', 1.0), ('#46dc46', 0.9), ('#cc2b2b', 1.0), ('#1c1c78', 1.0), ('#dd3a3a', 1.0), ('#30cc30', 1.3)]
f_styles = [('black', 1.0), ('#46dc46', 0.9), ('#e08080', 1.0), ('#1c1c78', 1.0), ('#c41a1a', 1.6), ('#30cc30', 1.3)]

# ---------------------------------------------------------------- title box
shadow = Rectangle((130 / W, 1 - 41.5 / H), 327 / W, 33.3 / H, transform=fig.transFigure,
                   facecolor='#b4b4b4', edgecolor='none', alpha=0.6, zorder=-5)
fig.add_artist(shadow)
tax = px_axes(127, 5, 454, 38.3, zorder=2)
grad_cmap = LinearSegmentedColormap.from_list('title', ['#ffdc2a', '#f4b40a'])
tax.imshow(np.linspace(0, 1, 50).reshape(-1, 1), aspect='auto', cmap=grad_cmap, extent=(0, 1, 0, 1))
tax.set_xlim(0, 1)
tax.set_ylim(0, 1)
tax.axis('off')
tax.text(0.477, 0.48, title, ha='center', va='center', fontsize=10.6, transform=tax.transAxes)

# ---------------------------------------------------------------- band + DOS rows
band_panel(px_axes(25, 72.7, 148, 261.7), bands_a, fermi['a'])
dos_panel(px_axes(171.7, 72.7, 294.7, 261.7), dos_a, fermi['a'], 10)
band_panel(px_axes(362.3, 72.7, 485.7, 261.7), bands_b, fermi['b'])
dos_panel(px_axes(509, 72.7, 632, 261.7), dos_b, fermi['b'], 10)

band_panel(px_axes(25, 305, 148, 494), bands_c, fermi['c'])
dos_panel(px_axes(171.7, 305, 294.7, 494), dos_c, fermi['c'], 15)
band_panel(px_axes(363, 305, 485.7, 494), bands_d, fermi['d'])
dos_panel(px_axes(509, 305, 632, 494), dos_d, fermi['d'], 15)

# ---------------------------------------------------------------- PDOS rows
pdos_panel(px_axes(25, 540.7, 296, 730), [e_total, e_b2p, e_c2p, e_n2p, e_h1s, e_o2p],
           fermi['e'], 10, (0.99, 0.968), base_styles)
pdos_panel(px_axes(360.7, 540.7, 634, 730), [f_total, f_b2p, f_c2p, f_n2p, f_h1s, f_o2p],
           fermi['f'], 10, (0.949, 0.935), f_styles, label_color='#202050')
pdos_panel(px_axes(25, 786.7, 296, 975), [g_total, g_b2p, g_c2p, g_n2p, g_h1s, g_o2p],
           fermi['g'], 15, (0.89, 0.947), base_styles)
pdos_panel(px_axes(360.7, 786.7, 634, 975), [h_total, h_b2p, h_c2p, h_n2p, h_h1s, h_o2p],
           fermi['h'], 15, (0.949, 0.947), base_styles)

# ---------------------------------------------------------------- panel letters
panel_letters = {'(a)': (128, 50), '(b)': (407, 50), '(c)': (153, 286), '(d)': (495, 283),
                 '(e)': (159, 518), '(f)': (500, 525), '(g)': (157, 770), '(h)': (495, 770)}
for txt, (x, y) in panel_letters.items():
    fig.text(x / W, 1 - y / H, txt, ha='center', va='center', fontsize=10.5)

fig.savefig('out.png', dpi=100)
